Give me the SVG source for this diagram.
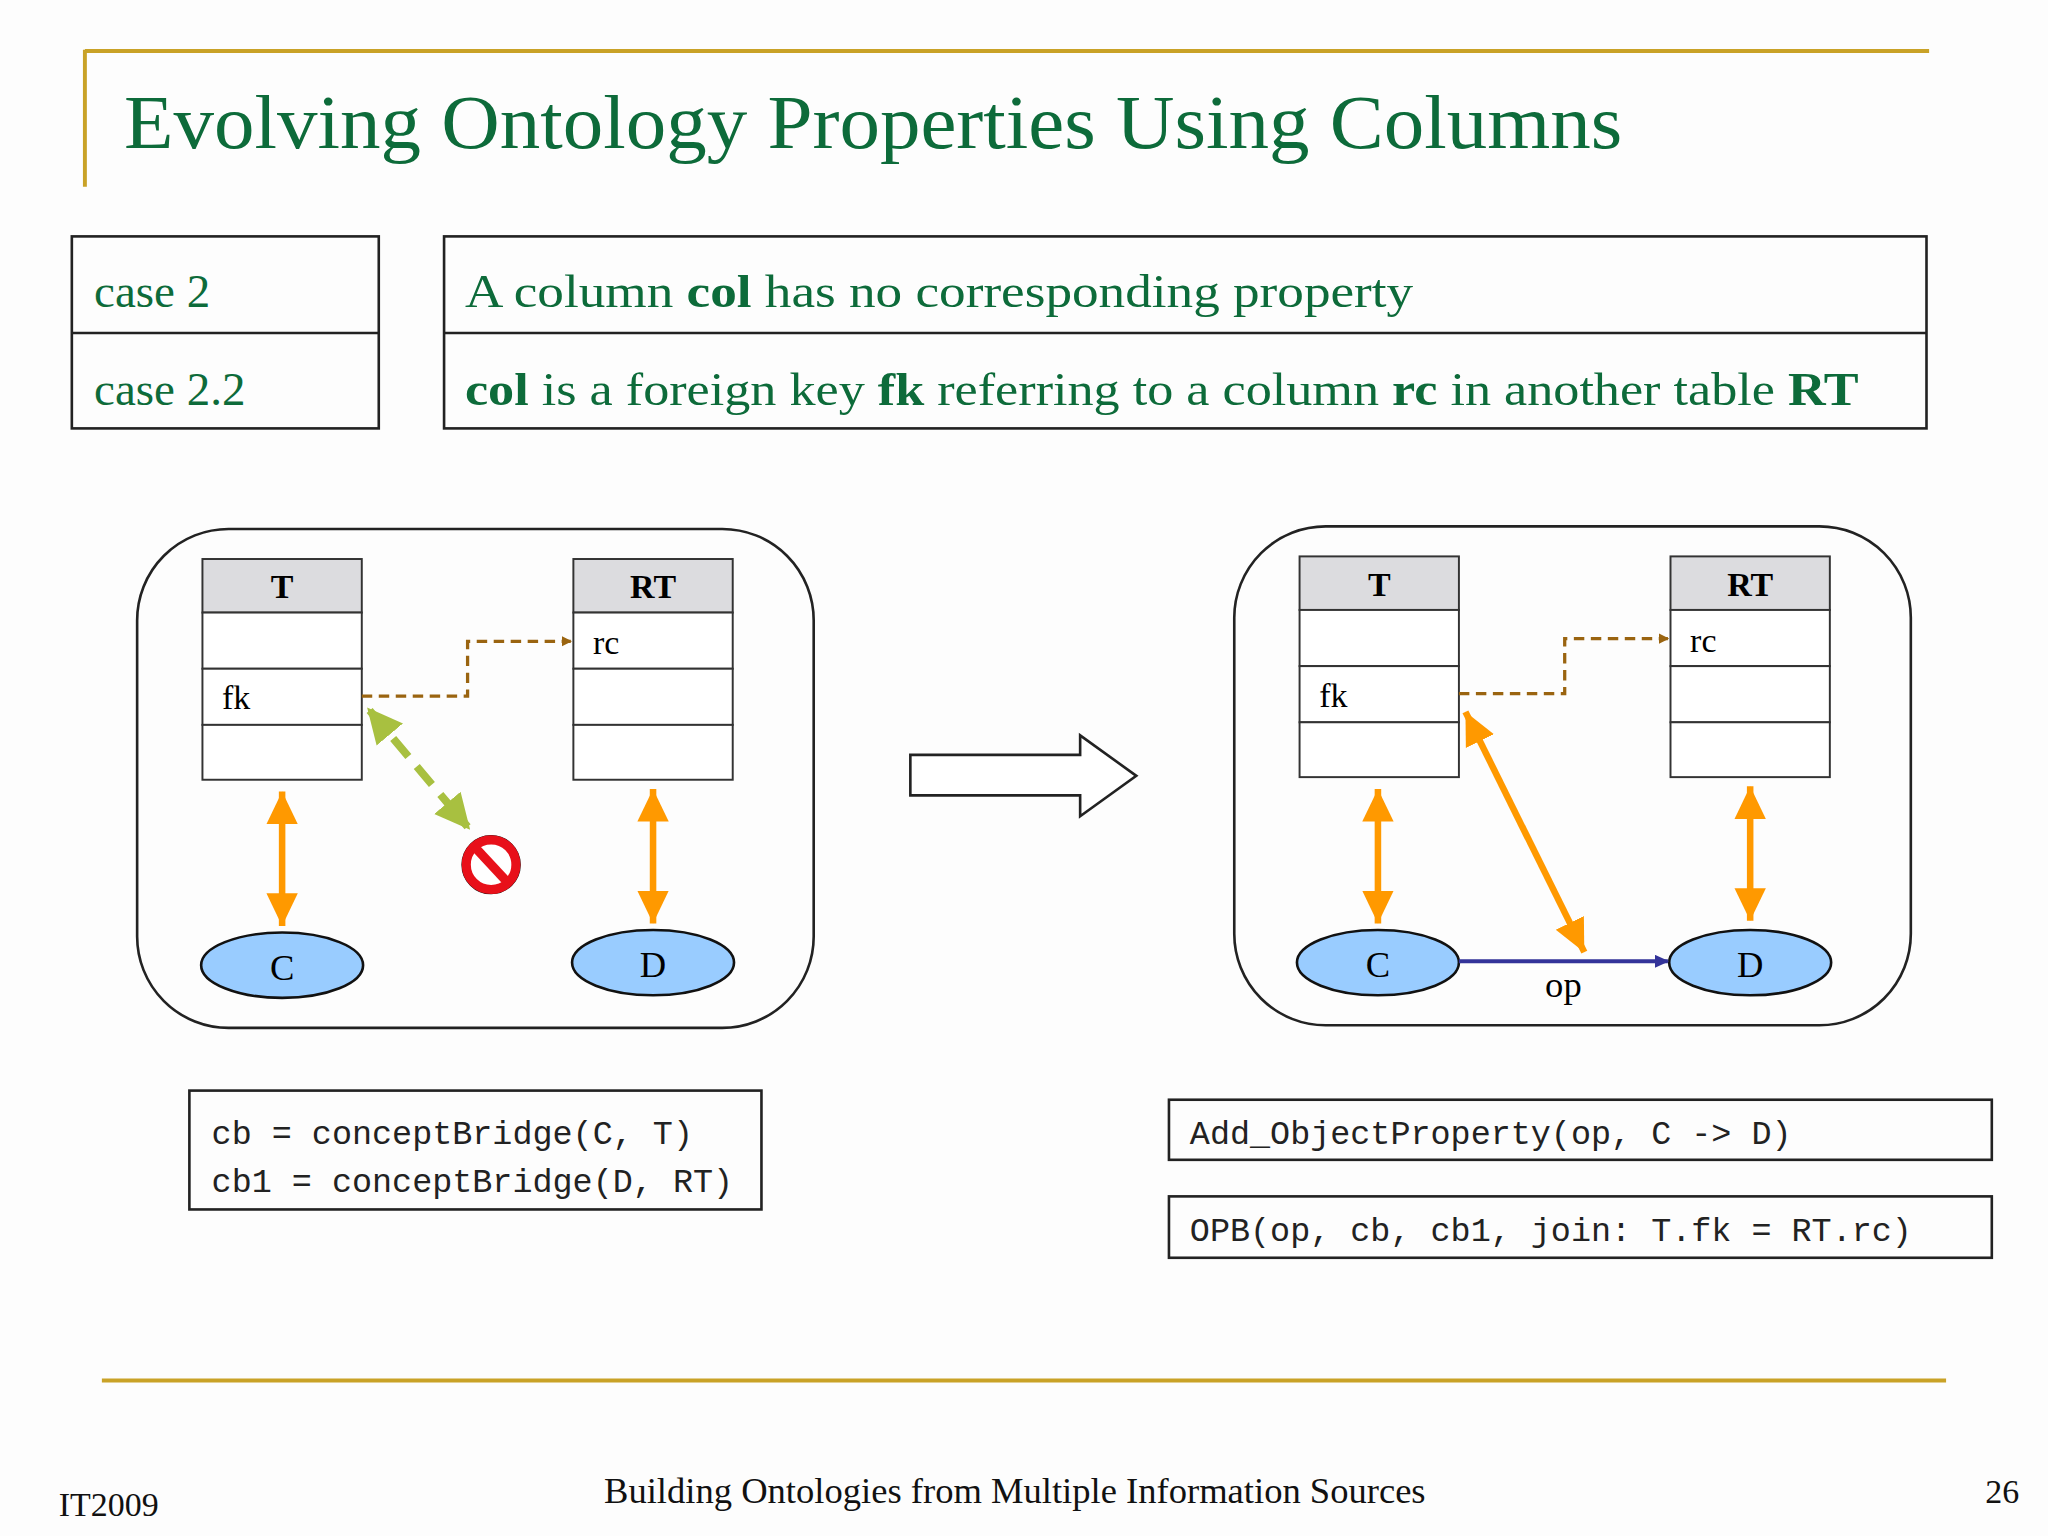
<svg xmlns="http://www.w3.org/2000/svg" width="2048" height="1536" viewBox="0 0 2048 1536">
<defs>
<style>
.serif{font-family:"Liberation Serif","DejaVu Serif",serif}
.mono{font-family:"Liberation Mono","DejaVu Sans Mono",monospace;font-size:25.6px;fill:#222}
.green{fill:#0d6b3a}
.box{fill:none;stroke:#222;stroke-width:2}
.hdr{fill:#dcdcdf;stroke:#333;stroke-width:1.5}
.row{fill:#fff;stroke:#333;stroke-width:1.5}
.ell{fill:#99ccff;stroke:#111;stroke-width:2}
.gold{stroke:#c9a227;stroke-width:3}
.or{stroke:#ff9900;stroke-width:5;fill:none}
.br{stroke:#9a6410;stroke-width:2.5;stroke-dasharray:8 5;fill:none}
</style>
<marker id="ao" markerWidth="6" markerHeight="6" refX="5" refY="3" orient="auto-start-reverse" markerUnits="strokeWidth"><path d="M0,0.6 L5,3 L0,5.4z" fill="#ff9900"/></marker>
<marker id="ab" markerWidth="8" markerHeight="8" refX="7" refY="4" orient="auto" markerUnits="userSpaceOnUse"><path d="M0,0 L8,4 L0,8z" fill="#9a6410"/></marker>
<marker id="ag" markerWidth="5" markerHeight="5" refX="4" refY="2.5" orient="auto-start-reverse" markerUnits="strokeWidth"><path d="M0,0.3 L4.5,2.5 L0,4.7z" fill="#a8c040"/></marker>
<marker id="an" markerWidth="12" markerHeight="12" refX="10" refY="5" orient="auto" markerUnits="userSpaceOnUse"><path d="M0,0 L11,5 L0,10z" fill="#333399"/></marker>
</defs>
<rect width="2048" height="1536" fill="#fdfdfd"/>
<g transform="scale(1.3061)">
<g id="title">
<line class="gold" x1="65" y1="39" x2="1477" y2="39"/>
<line class="gold" x1="65" y1="38" x2="65" y2="143"/>
<text class="serif green" x="95" y="113" font-size="58" textLength="1147" lengthAdjust="spacingAndGlyphs">Evolving Ontology Properties Using Columns</text>
</g>
<g id="cases">
<rect class="box" x="55" y="181" width="235" height="147"/>
<line stroke="#222" stroke-width="2" x1="55" y1="255" x2="290" y2="255"/>
<rect class="box" x="340" y="181" width="1135" height="147"/>
<line stroke="#222" stroke-width="2" x1="340" y1="255" x2="1475" y2="255"/>
<text class="serif green" x="72" y="235" font-size="36">case 2</text>
<text class="serif green" x="72" y="310" font-size="36">case 2.2</text>
<text class="serif green" x="356" y="235" font-size="36" textLength="726" lengthAdjust="spacingAndGlyphs">A column <tspan font-weight="bold">col</tspan> has no corresponding property</text>
<text class="serif green" x="356" y="310" font-size="36" textLength="1067" lengthAdjust="spacingAndGlyphs"><tspan font-weight="bold">col</tspan> is a foreign key <tspan font-weight="bold">fk</tspan> referring to a column <tspan font-weight="bold">rc</tspan> in another table <tspan font-weight="bold">RT</tspan></text>
</g>
<g id="left-panel">
<rect class="box" x="105" y="405" width="518" height="382" rx="70"/>
<g id="L-T">
<rect class="hdr" x="155" y="428" width="122" height="41"/>
<rect class="row" x="155" y="469" width="122" height="43"/>
<rect class="row" x="155" y="512" width="122" height="43"/>
<rect class="row" x="155" y="555" width="122" height="42"/>
<text class="serif" x="216" y="458" font-size="26" font-weight="bold" text-anchor="middle">T</text>
<text class="serif" x="170" y="543" font-size="26">fk</text>
</g>
<g id="L-RT">
<rect class="hdr" x="439" y="428" width="122" height="41"/>
<rect class="row" x="439" y="469" width="122" height="43"/>
<rect class="row" x="439" y="512" width="122" height="43"/>
<rect class="row" x="439" y="555" width="122" height="42"/>
<text class="serif" x="500" y="458" font-size="26" font-weight="bold" text-anchor="middle">RT</text>
<text class="serif" x="454" y="501" font-size="26">rc</text>
</g>
<g id="L-C"><ellipse class="ell" cx="216" cy="739" rx="62" ry="25"/><text class="serif" x="216" y="750" font-size="28" text-anchor="middle">C</text></g>
<g id="L-D"><ellipse class="ell" cx="500" cy="737" rx="62" ry="25"/><text class="serif" x="500" y="748" font-size="28" text-anchor="middle">D</text></g>
<g id="nosign">
<circle cx="376" cy="662" r="22" fill="#fff" stroke="#111" stroke-width="1.5"/>
<circle cx="376" cy="662" r="19" fill="none" stroke="#e8101a" stroke-width="7"/>
<line x1="363" y1="648" x2="389" y2="676" stroke="#e8101a" stroke-width="7"/>
</g>
</g>
<g id="arrow-big"><path d="M697,578 L827,578 L827,563 L870,594 L827,625 L827,609 L697,609 Z" fill="#fff" stroke="#222" stroke-width="2"/></g>
<g id="right-panel">
<rect class="box" x="945" y="403" width="518" height="382" rx="70"/>
<g id="R-T">
<rect class="hdr" x="995" y="426" width="122" height="41"/>
<rect class="row" x="995" y="467" width="122" height="43"/>
<rect class="row" x="995" y="510" width="122" height="43"/>
<rect class="row" x="995" y="553" width="122" height="42"/>
<text class="serif" x="1056" y="456" font-size="26" font-weight="bold" text-anchor="middle">T</text>
<text class="serif" x="1010" y="541" font-size="26">fk</text>
</g>
<g id="R-RT">
<rect class="hdr" x="1279" y="426" width="122" height="41"/>
<rect class="row" x="1279" y="467" width="122" height="43"/>
<rect class="row" x="1279" y="510" width="122" height="43"/>
<rect class="row" x="1279" y="553" width="122" height="42"/>
<text class="serif" x="1340" y="456" font-size="26" font-weight="bold" text-anchor="middle">RT</text>
<text class="serif" x="1294" y="499" font-size="26">rc</text>
</g>
<g id="R-C"><ellipse class="ell" cx="1055" cy="737" rx="62" ry="25"/><text class="serif" x="1055" y="748" font-size="28" text-anchor="middle">C</text></g>
<g id="R-D"><ellipse class="ell" cx="1340" cy="737" rx="62" ry="25"/><text class="serif" x="1340" y="748" font-size="28" text-anchor="middle">D</text></g>
<text class="serif" x="1197" y="763" font-size="28" text-anchor="middle">op</text>
</g>
<g id="connectors">
<path class="br" d="M277,533 H358 V491 H437" marker-end="url(#ab)"/>
<line x1="283" y1="544" x2="358" y2="633" stroke="#a8c040" stroke-width="6" stroke-dasharray="18 10" marker-start="url(#ag)" marker-end="url(#ag)"/>
<line class="or" x1="216" y1="606" x2="216" y2="709" marker-start="url(#ao)" marker-end="url(#ao)"/>
<line class="or" x1="500" y1="604" x2="500" y2="707" marker-start="url(#ao)" marker-end="url(#ao)"/>
<path class="br" d="M1117,531 H1198 V489 H1277" marker-end="url(#ab)"/>
<line class="or" x1="1122" y1="545" x2="1213" y2="729" marker-start="url(#ao)" marker-end="url(#ao)"/>
<line class="or" x1="1055" y1="604" x2="1055" y2="707" marker-start="url(#ao)" marker-end="url(#ao)"/>
<line class="or" x1="1340" y1="602" x2="1340" y2="705" marker-start="url(#ao)" marker-end="url(#ao)"/>
<line x1="1117" y1="736" x2="1277" y2="736" stroke="#333399" stroke-width="3" marker-end="url(#an)"/>
</g>
<g id="code-left">
<rect class="box" x="145" y="835" width="438" height="91"/>
<text class="mono" x="162" y="876">cb = conceptBridge(C, T)</text>
<text class="mono" x="162" y="913">cb1 = conceptBridge(D, RT)</text>
</g>
<g id="code-right">
<rect class="box" x="895" y="842" width="630" height="46"/>
<text class="mono" x="911" y="876">Add_ObjectProperty(op, C -&gt; D)</text>
<rect class="box" x="895" y="916" width="630" height="47"/>
<text class="mono" x="911" y="950">OPB(op, cb, cb1, join: T.fk = RT.rc)</text>
</g>
<g id="footer">
<line class="gold" x1="78" y1="1057" x2="1490" y2="1057"/>
<text class="serif" x="45" y="1161" font-size="26" fill="#111">IT2009</text>
<text class="serif" x="777" y="1151" font-size="28" fill="#111" text-anchor="middle">Building Ontologies from Multiple Information Sources</text>
<text class="serif" x="1546" y="1151" font-size="26" fill="#111" text-anchor="end">26</text>
</g>
</g>
</svg>
